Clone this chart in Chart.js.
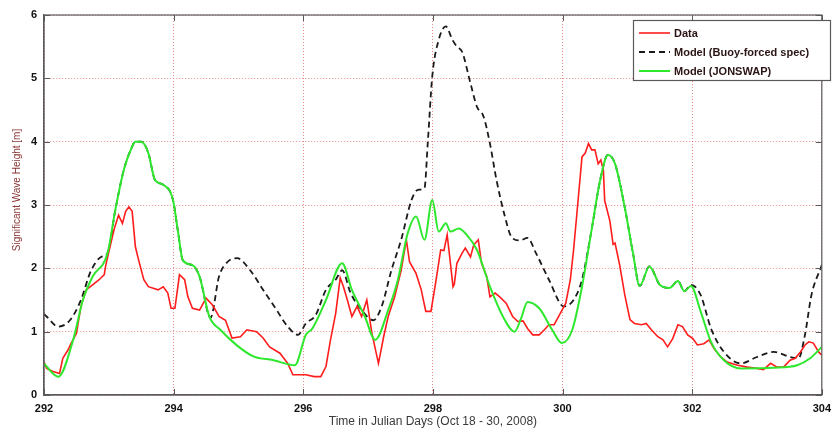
<!DOCTYPE html>
<html>
<head>
<meta charset="utf-8">
<script src="https://cdn.jsdelivr.net/npm/chart.js@4/dist/chart.umd.min.js"></script>
<style>
  html, body { margin: 0; padding: 0; background: #ffffff; }
  #wrap { width: 838px; height: 432px; }
</style>
</head>
<body>
<div id="wrap"><canvas id="c" width="838" height="432"></canvas></div>
<script>
// Axis ticks
const xTicks = [292, 294, 296, 298, 300, 302, 304];
const yTicks = [0, 1, 2, 3, 4, 5, 6];

// Series names (legend) and axis titles
const seriesNames = ['Data', 'Model (Buoy-forced spec)', 'Model (JONSWAP)'];
const xTitle = 'Time in Julian Days (Oct 18 - 30, 2008)';
const yTitle = 'Significant Wave Height [m]';

// Measured significant wave height (Julian day, metres)
const dataDay = [292.00, 292.04, 292.14, 292.24, 292.29, 292.37, 292.42, 292.50, 292.57, 292.65, 292.75, 292.85, 292.93, 292.95, 293.00, 293.08, 293.15, 293.21, 293.26, 293.31, 293.36, 293.41, 293.46, 293.54, 293.61, 293.76, 293.84, 293.91, 293.96, 294.02, 294.09, 294.17, 294.22, 294.29, 294.40, 294.50, 294.60, 294.70, 294.80, 294.90, 295.03, 295.13, 295.28, 295.38, 295.48, 295.64, 295.76, 295.84, 296.04, 296.17, 296.27, 296.35, 296.42, 296.50, 296.57, 296.62, 296.68, 296.75, 296.83, 296.90, 296.98, 297.06, 297.16, 297.24, 297.31, 297.41, 297.51, 297.59, 297.64, 297.74, 297.82, 297.89, 297.97, 298.04, 298.12, 298.17, 298.22, 298.27, 298.31, 298.33, 298.37, 298.45, 298.50, 298.58, 298.63, 298.70, 298.75, 298.83, 298.88, 298.96, 299.03, 299.13, 299.23, 299.31, 299.39, 299.46, 299.54, 299.64, 299.72, 299.79, 299.87, 299.94, 300.05, 300.12, 300.17, 300.25, 300.30, 300.35, 300.40, 300.45, 300.50, 300.55, 300.59, 300.63, 300.65, 300.73, 300.78, 300.81, 300.88, 300.96, 301.04, 301.11, 301.22, 301.29, 301.37, 301.47, 301.55, 301.62, 301.70, 301.78, 301.85, 301.93, 302.01, 302.08, 302.18, 302.26, 302.34, 302.44, 302.54, 302.70, 302.85, 303.00, 303.10, 303.21, 303.31, 303.41, 303.51, 303.59, 303.67, 303.74, 303.80, 303.87, 303.95, 304.00];
const dataHs  = [0.52, 0.42, 0.37, 0.34, 0.58, 0.71, 0.82, 0.97, 1.40, 1.66, 1.74, 1.82, 1.90, 2.03, 2.26, 2.61, 2.84, 2.71, 2.90, 2.97, 2.90, 2.34, 2.13, 1.82, 1.71, 1.66, 1.71, 1.61, 1.37, 1.37, 1.90, 1.82, 1.55, 1.37, 1.34, 1.53, 1.42, 1.24, 1.18, 0.90, 0.92, 1.03, 1.00, 0.90, 0.76, 0.66, 0.50, 0.32, 0.32, 0.29, 0.29, 0.45, 0.87, 1.29, 1.85, 1.71, 1.50, 1.24, 1.40, 1.24, 1.50, 0.97, 0.50, 0.92, 1.24, 1.55, 1.97, 2.45, 2.10, 1.92, 1.66, 1.32, 1.32, 1.76, 2.29, 2.28, 2.53, 2.08, 1.71, 1.75, 2.08, 2.24, 2.32, 2.18, 2.37, 2.45, 2.08, 1.87, 1.55, 1.61, 1.55, 1.45, 1.24, 1.16, 1.17, 1.05, 0.95, 0.95, 1.03, 1.11, 1.11, 1.24, 1.45, 1.82, 2.29, 3.19, 3.76, 3.82, 3.97, 3.87, 3.87, 3.65, 3.71, 3.55, 3.07, 2.75, 2.38, 2.40, 2.06, 1.58, 1.19, 1.13, 1.11, 1.13, 1.03, 0.92, 0.87, 0.76, 0.89, 1.11, 1.08, 0.95, 0.89, 0.79, 0.81, 0.87, 0.73, 0.60, 0.52, 0.47, 0.44, 0.42, 0.40, 0.50, 0.44, 0.44, 0.55, 0.58, 0.68, 0.79, 0.84, 0.82, 0.68, 0.63];

// Model run forced with buoy spectra
const buoyDay = [292.00, 292.04, 292.22, 292.40, 292.57, 292.72, 292.88, 292.98, 293.10, 293.23, 293.35, 293.41, 293.50, 293.61, 293.71, 293.84, 293.99, 294.07, 294.14, 294.29, 294.40, 294.57, 294.70, 294.83, 294.98, 295.18, 295.38, 295.59, 295.76, 295.92, 296.04, 296.19, 296.35, 296.50, 296.60, 296.73, 296.90, 297.08, 297.21, 297.36, 297.51, 297.67, 297.77, 297.87, 297.92, 297.99, 298.09, 298.20, 298.30, 298.37, 298.45, 298.58, 298.68, 298.78, 298.88, 298.98, 299.11, 299.21, 299.34, 299.46, 299.59, 299.79, 300.02, 300.17, 300.30, 300.45, 300.58, 300.70, 300.81, 300.96, 301.09, 301.19, 301.34, 301.50, 301.65, 301.78, 301.88, 301.98, 302.13, 302.29, 302.49, 302.75, 303.00, 303.26, 303.51, 303.64, 303.74, 303.84, 304.00];
const buoyHs  = [1.28, 1.24, 1.08, 1.18, 1.50, 1.95, 2.18, 2.24, 2.92, 3.55, 3.90, 4.00, 4.00, 3.82, 3.40, 3.32, 3.08, 2.56, 2.13, 2.05, 1.87, 1.22, 1.87, 2.10, 2.16, 1.97, 1.66, 1.34, 1.08, 0.95, 1.13, 1.26, 1.66, 1.82, 1.97, 1.61, 1.34, 1.18, 1.40, 1.97, 2.45, 3.08, 3.24, 3.27, 3.97, 5.03, 5.61, 5.82, 5.61, 5.50, 5.42, 4.92, 4.55, 4.40, 3.97, 3.40, 2.82, 2.50, 2.44, 2.48, 2.24, 1.82, 1.40, 1.50, 1.82, 2.62, 3.39, 3.79, 3.65, 2.96, 2.22, 1.72, 2.03, 1.74, 1.69, 1.80, 1.64, 1.74, 1.58, 1.05, 0.68, 0.50, 0.60, 0.68, 0.60, 0.58, 0.95, 1.58, 2.05];

// Model run with JONSWAP spectra
const jonDay = [292.00, 292.04, 292.22, 292.45, 292.60, 292.75, 292.98, 293.10, 293.23, 293.35, 293.41, 293.50, 293.61, 293.71, 293.84, 293.99, 294.07, 294.14, 294.29, 294.40, 294.55, 294.72, 294.98, 295.23, 295.54, 295.87, 296.04, 296.14, 296.35, 296.60, 296.75, 296.95, 297.11, 297.31, 297.46, 297.61, 297.74, 297.87, 297.99, 298.09, 298.20, 298.27, 298.40, 298.52, 298.68, 298.88, 299.08, 299.26, 299.36, 299.46, 299.64, 299.84, 299.99, 300.15, 300.30, 300.45, 300.58, 300.70, 300.81, 300.96, 301.09, 301.19, 301.34, 301.50, 301.65, 301.78, 301.88, 301.98, 302.13, 302.29, 302.49, 302.75, 303.26, 303.62, 303.82, 304.00];
const jonHs  = [0.50, 0.45, 0.29, 0.87, 1.50, 1.87, 2.24, 2.92, 3.55, 3.90, 4.00, 4.00, 3.82, 3.40, 3.32, 3.08, 2.56, 2.13, 2.05, 1.87, 1.24, 1.03, 0.78, 0.61, 0.55, 0.47, 0.95, 1.05, 1.50, 2.08, 1.66, 1.24, 0.87, 1.34, 1.82, 2.55, 2.82, 2.45, 3.08, 2.58, 2.71, 2.58, 2.63, 2.53, 2.29, 1.71, 1.24, 1.00, 1.21, 1.47, 1.37, 1.03, 0.82, 1.03, 1.71, 2.62, 3.39, 3.79, 3.65, 2.96, 2.22, 1.72, 2.03, 1.74, 1.69, 1.80, 1.64, 1.72, 1.32, 0.84, 0.55, 0.42, 0.43, 0.47, 0.58, 0.76];

const pts = (xs, ys) => xs.map((x, i) => ({ x: x, y: ys[i] }));

const COLORS = { data: '#ff1c1c', buoy: '#1a1a1a', jon: '#2ee82e' };
const FONT = "'Liberation Sans', Arial, sans-serif";
const GRID = 'rgba(228,110,110,0.8)';

// Frame box, inward tick marks, y-axis title and the in-plot legend
const framePlugin = {
  id: 'frame',
  afterDraw(chart) {
    const { ctx, chartArea: a, scales } = chart;
    ctx.save();
    ctx.strokeStyle = '#5a5a5a';
    ctx.lineWidth = 1.2;
    ctx.strokeRect(a.left, a.top, a.right - a.left, a.bottom - a.top);
    ctx.lineWidth = 1;
    yTicks.forEach(v => {
      const y = Math.round(scales.y.getPixelForValue(v)) + 0.5;
      ctx.beginPath();
      ctx.moveTo(a.left, y); ctx.lineTo(a.left + 6, y);
      ctx.moveTo(a.right, y); ctx.lineTo(a.right - 6, y);
      ctx.stroke();
    });
    xTicks.forEach(v => {
      const x = Math.round(scales.x.getPixelForValue(v)) + 0.5;
      ctx.beginPath();
      ctx.moveTo(x, a.bottom); ctx.lineTo(x, a.bottom - 6);
      ctx.moveTo(x, a.top); ctx.lineTo(x, a.top + 6);
      ctx.stroke();
    });

    // y-axis title
    ctx.save();
    ctx.translate(17, 190);
    ctx.rotate(-Math.PI / 2);
    ctx.font = '10px ' + FONT;
    ctx.fillStyle = '#8a3434';
    ctx.textAlign = 'center';
    ctx.textBaseline = 'middle';
    ctx.fillText(yTitle, 0, 0);
    ctx.restore();

    // legend box
    const lx = 633, ly = 20, lw = 197, lh = 60;
    ctx.fillStyle = '#ffffff';
    ctx.fillRect(lx, ly, lw, lh);
    ctx.strokeStyle = '#5a5a5a';
    ctx.lineWidth = 1.2;
    ctx.strokeRect(lx + 0.5, ly + 0.5, lw, lh);
    const rows = [
      { color: COLORS.data, dash: [], width: 1.6 },
      { color: COLORS.buoy, dash: [6, 4], width: 1.8 },
      { color: COLORS.jon, dash: [], width: 2 }
    ];
    ctx.font = 'bold 11px ' + FONT;
    ctx.textBaseline = 'middle';
    ctx.textAlign = 'left';
    rows.forEach((r, i) => {
      const y = ly + 13 + i * 19;
      ctx.beginPath();
      ctx.setLineDash(r.dash);
      ctx.strokeStyle = r.color;
      ctx.lineWidth = r.width;
      ctx.moveTo(lx + 6, y); ctx.lineTo(lx + 37, y);
      ctx.stroke();
      ctx.setLineDash([]);
      ctx.fillStyle = '#2a1414';
      ctx.fillText(seriesNames[i], lx + 41, y + 0.5);
    });
    ctx.restore();
  }
};

new Chart(document.getElementById('c'), {
  type: 'line',
  data: {
    datasets: [
      {
        label: seriesNames[0], data: pts(dataDay, dataHs),
        borderColor: COLORS.data, borderWidth: 1.6, pointRadius: 0,
        tension: 0, order: 1
      },
      {
        label: seriesNames[1], data: pts(buoyDay, buoyHs),
        borderColor: COLORS.buoy, borderWidth: 1.8, borderDash: [6, 4], pointRadius: 0,
        cubicInterpolationMode: 'monotone', order: 2
      },
      {
        label: seriesNames[2], data: pts(jonDay, jonHs),
        borderColor: COLORS.jon, borderWidth: 2, pointRadius: 0,
        cubicInterpolationMode: 'monotone', order: 0
      }
    ]
  },
  options: {
    responsive: false,
    animation: false,
    devicePixelRatio: 1,
    layout: { padding: { top: 15, right: 4, left: 0, bottom: 0 } },
    plugins: { legend: { display: false }, tooltip: { enabled: false } },
    scales: {
      x: {
        type: 'linear', min: 292, max: 304,
        afterBuildTicks: s => { s.ticks = xTicks.map(v => ({ value: v })); },
        afterFit: s => { s.height = 37; },
        grid: { color: GRID, lineWidth: 1, drawTicks: false },
        border: { display: true, color: '#5a5a5a', width: 1.2, dash: [1, 2] },
        ticks: { padding: 7, color: '#111', font: { family: FONT, size: 11, weight: 'bold' }, maxRotation: 0 },
        title: { display: true, text: xTitle, color: '#3a3a3a',
                 font: { family: FONT, size: 12 }, padding: { top: 0, bottom: 3 } }
      },
      y: {
        min: 0, max: 6,
        afterBuildTicks: s => { s.ticks = yTicks.map(v => ({ value: v })); },
        afterFit: s => { s.width = 44; },
        grid: { color: GRID, lineWidth: 1, drawTicks: false },
        border: { display: true, color: '#5a5a5a', width: 1.2, dash: [1, 2] },
        ticks: { padding: 7, color: '#111', font: { family: FONT, size: 11, weight: 'bold' } }
      }
    }
  },
  plugins: [framePlugin]
});
</script>
</body>
</html>
